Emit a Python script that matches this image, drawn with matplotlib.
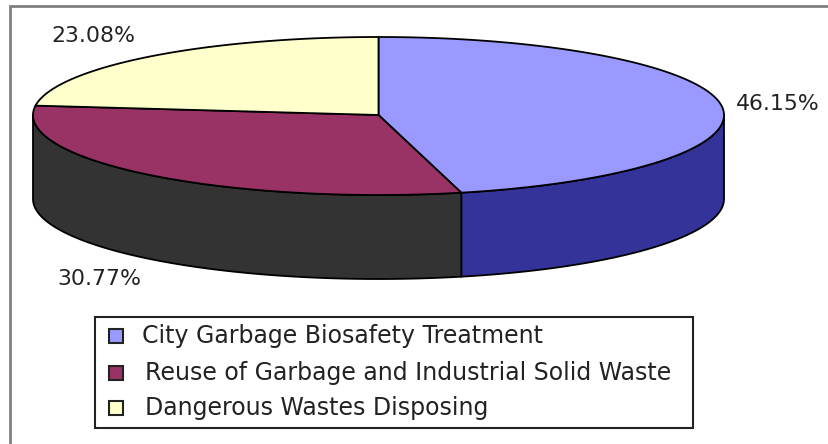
import numpy as np
import matplotlib
matplotlib.use('Agg')
import matplotlib.pyplot as plt
from matplotlib.patches import Rectangle

W, H = 829, 444

# data
categories = ['City Garbage Biosafety Treatment',
              'Reuse of Garbage and Industrial Solid Waste',
              'Dangerous Wastes Disposing']
shares = [46.15, 30.77, 23.08]
share_labels = ['46.15%', '30.77%', '23.08%']
top_colors = ['#9999ff', '#993366', '#ffffcc']
side_colors = ['#333399', '#333333', '#999966']

# pie geometry in image pixels
CX, CY = 378.5, 115
RX = 345.5
RY_BACK, RY_FRONT = 78, 80  # reference ellipse is a bit fatter at the front
DEPTH = 84

label_pos = [(736, 104), (57, 279), (51, 36)]
legend_y = [336, 373, 408]
legend_tx = [142, 145, 145]


def rim(a0, a1):
    t = np.radians(np.linspace(a0, a1, 300))
    ry = np.where(np.sin(t) >= 0, RY_BACK, RY_FRONT)
    return CX + RX * np.cos(t), CY - ry * np.sin(t)


fig = plt.figure(figsize=(W / 100, H / 100), dpi=100)
ax = fig.add_axes([0, 0, 1, 1])
ax.set_xlim(0, W)
ax.set_ylim(H, 0)
ax.axis('off')

# grey outer frame, only top and left end inside the picture
ax.add_patch(Rectangle((10, 6), W + 20, H + 20, fc='white', ec='#808080', lw=2))

# walk clockwise from 12 o'clock
edges = 90 - np.cumsum([0] + shares) * 3.6
for i in range(len(shares)):
    a0, a1 = edges[i], edges[i + 1]
    # side wall, only the front half of the rim shows
    lo, hi = max(a1, -180), min(a0, 0)
    if hi > lo:
        x, y = rim(hi, lo)
        ax.fill(np.r_[x, x[::-1]], np.r_[y, y[::-1] + DEPTH],
                fc=side_colors[i], ec='black', lw=1.3, zorder=2, joinstyle='round')
for i in range(len(shares)):
    x, y = rim(edges[i], edges[i + 1])
    ax.fill(np.r_[CX, x], np.r_[CY, y], fc=top_colors[i], ec='black', lw=1.3,
            zorder=3, joinstyle='round')

for (tx, ty), s in zip(label_pos, share_labels):
    ax.text(tx, ty, s, fontsize=15.8, family='DejaVu Sans', color='#222222',
            va='center', ha='left', zorder=4)

# legend box
ax.add_patch(Rectangle((95, 317), 598, 111, fc='white', ec='#222222', lw=1.5, zorder=4))
for name, color, y, tx in zip(categories, top_colors, legend_y, legend_tx):
    ax.add_patch(Rectangle((109, y - 7), 14, 14, fc=color, ec='#222222', lw=1.5, zorder=5))
    ax.text(tx, y, name, fontsize=17, family='DejaVu Sans', color='#222222',
            va='center', ha='left', zorder=5)

fig.savefig('out.png', dpi=100)
